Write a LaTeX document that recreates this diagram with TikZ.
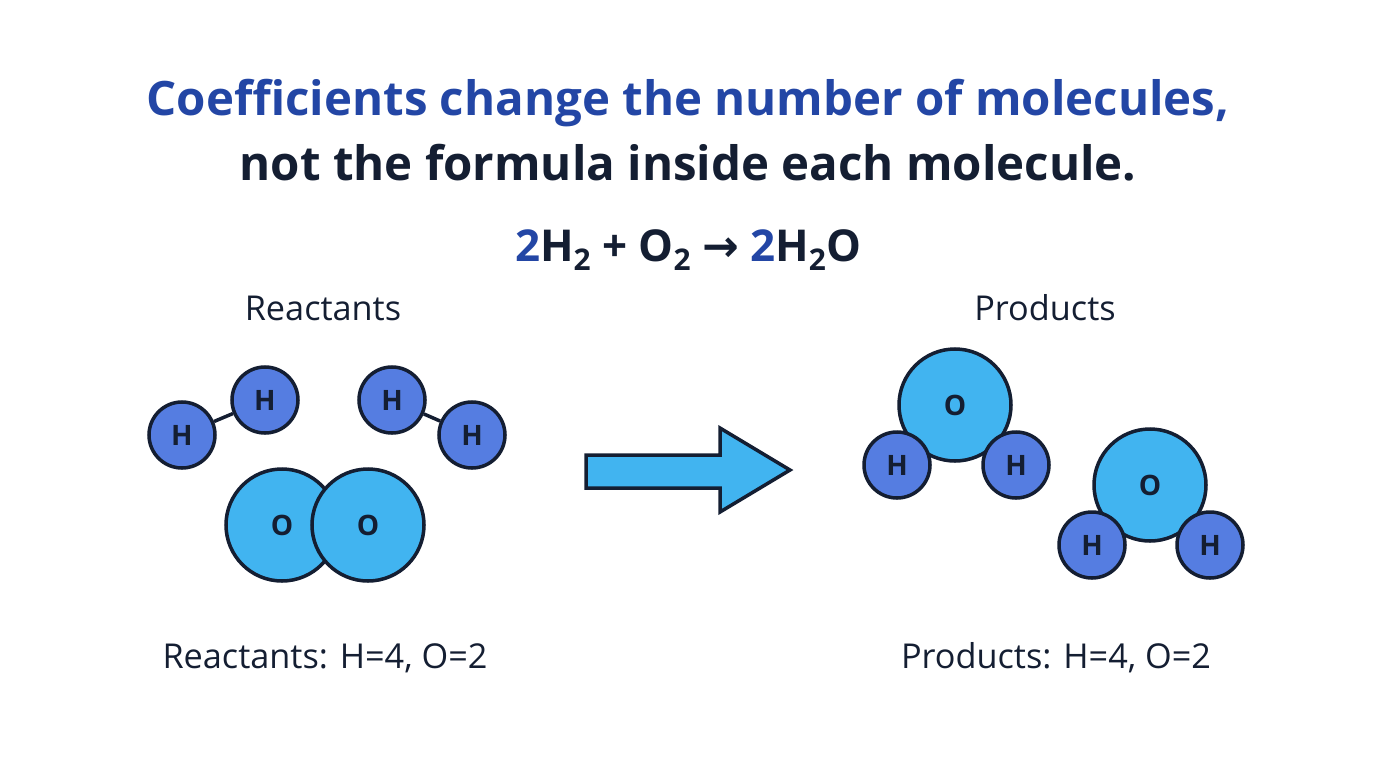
\documentclass[tikz,border=0pt]{standalone}
\usepackage{fontspec}
\setmainfont{Open Sans}
\newfontfamily\arrowfont{DejaVu Sans}
\usetikzlibrary{positioning}
\definecolor{chBlue}{RGB}{35, 70, 165}
\definecolor{chNavy}{RGB}{20, 30, 50}
\definecolor{chHyd}{RGB}{85, 125, 225}
\definecolor{chOxy}{RGB}{65, 180, 240}
\newlength{\unitpx}
\setlength{\unitpx}{0.02cm}
\tikzset{
    base/.style={
        font=\sffamily,
        align=center,
        text=chNavy
    },
    hatom/.style={
        base,
        circle,
        draw=chNavy,
        line width=2pt,
        fill=chHyd,
        minimum size=66\unitpx,
        inner sep=0pt,
        font=\bfseries\fontsize{16}{16}\selectfont
    },
    oatom/.style={
        hatom,
        fill=chOxy,
        minimum size=112\unitpx
    },
    bond/.style={
        line width=2pt,
        color=chNavy
    },
    label/.style={
        base,
        font=\fontsize{19.5}{22}\selectfont
    }
}
\begin{document}
\begin{tikzpicture}[x=0.02cm, y=-0.02cm]
  \useasboundingbox (0,0) rectangle (1376,768);

  % Title
  \node[base, font=\bfseries\fontsize{27}{32}\selectfont, text=chBlue] (title) at (688,103) {Coefficients change the number of molecules,};
  \node[base, font=\bfseries\fontsize{27}{32}\selectfont] (subtitle) at (688,163) {not the formula inside each molecule.};
  \node[base, font=\bfseries\fontsize{25}{30}\selectfont] (eq) at (688,250)
    {\textcolor{chBlue}{2}H\raisebox{-0.35ex}{\fontsize{17}{17}\selectfont 2} + O\raisebox{-0.35ex}{\fontsize{17}{17}\selectfont 2} {\arrowfont\bfseries →} \textcolor{chBlue}{2}H\raisebox{-0.35ex}{\fontsize{17}{17}\selectfont 2}O};

  % Headings
  \node[label] (reactants) at (323,308) {Reactants};
  \node[label] (products) at (1045,308) {Products};

  % Reactant molecules
  \node[hatom] (h1) at (182,435) {H};
  \node[hatom] (h2) at (265,400) {H};
  \node[hatom] (h3) at (392,400) {H};
  \node[hatom] (h4) at (472,435) {H};
  \draw[bond] (h1) -- (h2);
  \draw[bond] (h3) -- (h4);
  \node[oatom] (o1) at (282,525) {O};
  \node[oatom] (o2) at (368,525) {O};

  % Reaction arrow
  \draw[line width=2pt, draw=chNavy, fill=chOxy, line join=miter]
    (586,455) -- (720,455) -- (720,428) -- (790,470) -- (720,512) -- (720,488) -- (586,488) -- cycle;

  % Product molecules
  \node[oatom] (o3) at (955,405) {O};
  \node[hatom] (h5) at (897,465) {H};
  \node[hatom] (h6) at (1016,465) {H};
  \node[oatom] (o4) at (1150,485) {O};
  \node[hatom] (h7) at (1092,545) {H};
  \node[hatom] (h8) at (1210,545) {H};

  % Atom counts
  \node[label] (rcount) at (325,658) {Reactants: H=4, O=2};
  \node[label] (pcount) at (1056,658) {Products: H=4, O=2};
\end{tikzpicture}
\end{document}
